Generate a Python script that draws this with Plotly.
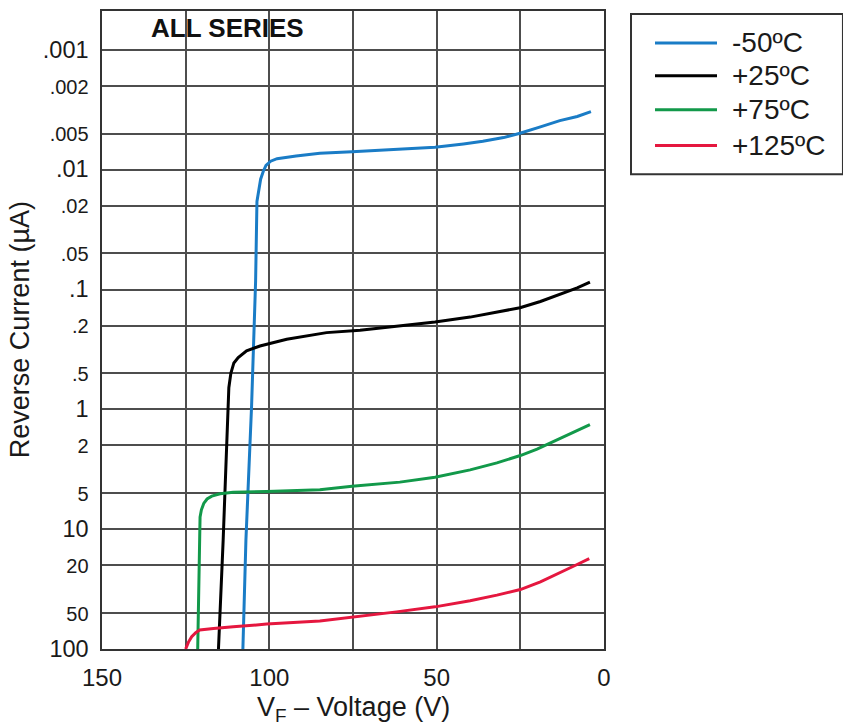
import math
import plotly.graph_objects as go

# Reverse current vs. reverse voltage at four junction temperatures
series_names = ["-50ºC", "+25ºC", "+75ºC", "+125ºC"]
series_colors = ["#1a7cc6", "#000000", "#12994a", "#e5173f"]

v_m50 = [107.9, 107.0, 105.3, 104.1, 103.7, 102.6, 101.8, 101.0, 99.6, 97.7, 92.0, 84.9, 75.3, 62.0,
         50.5, 42.0, 36.2, 30.0, 25.1, 19.0, 13.2, 8.0, 3.9]
i_m50 = [100, 12.4, 0.93, 0.085, 0.0184, 0.0120, 0.0103, 0.0092, 0.0085, 0.0081, 0.0077, 0.0073, 0.0071,
         0.0068, 0.0065, 0.0061, 0.0058, 0.0054, 0.00497, 0.0044, 0.0039, 0.0036, 0.00328]

v_p25 = [115.2, 113.8, 112.1, 111.5, 110.6, 109.3, 106.8, 102.8, 94.8, 82.9, 72.9, 61.0, 50.5,
         40.0, 32.0, 25.1, 19.0, 13.0, 8.0, 4.2]
i_p25 = [100, 12.4, 0.66, 0.50, 0.41, 0.37, 0.325, 0.296, 0.26, 0.229, 0.219, 0.201, 0.187,
         0.170, 0.155, 0.142, 0.126, 0.110, 0.097, 0.0867]

v_p75 = [121.4, 120.9, 120.7, 120.3, 119.6, 118.6, 117.2, 114.7, 110.8, 100.8, 84.9, 75.3, 61.0,
         50.5, 40.0, 32.0, 25.0, 20.0, 15.3, 10.0, 4.2]
i_p75 = [100, 12.0, 7.93, 6.9, 6.1, 5.6, 5.3, 5.07, 4.91, 4.85, 4.69, 4.38, 4.05,
         3.69, 3.2, 2.8, 2.43, 2.15, 1.86, 1.6, 1.34]

v_p125 = [125.0, 124.2, 123.2, 122.0, 120.8, 119.0, 116.7, 110.8, 100.8, 84.9, 75.3, 62.0,
          50.5, 40.0, 32.0, 25.0, 19.0, 13.2, 8.5, 4.4]
i_p125 = [100, 88, 79, 73, 69.5, 68.2, 67.3, 65.3, 62, 58.5, 54.5, 49.0,
          44.5, 39.5, 35.5, 31.9, 27.5, 23.2, 20.0, 17.6]

volt_ticks = [150, 100, 50, 0]
volt_grid_minor = [125, 75, 25]
current_ticks = [0.001, 0.002, 0.005, 0.01, 0.02, 0.05, 0.1, 0.2, 0.5, 1, 2, 5, 10, 20, 50, 100]
current_labels = [".001", ".002", ".005", ".01", ".02", ".05", ".1", ".2", ".5",
                  "1", "2", "5", "10", "20", "50", "100"]

FONT = "Liberation Sans, Arial, sans-serif"
TXT = "#1a1a1a"
GRID = "#4d4d4d"


def tick_text(label, value):
    # decade labels are set larger than the 2 and 5 labels
    decade = abs(math.log10(value) - round(math.log10(value))) < 1e-9
    size = 23.5 if decade else 20
    return f"<span style='font-size:{size}px'>{label}</span>"


fig = go.Figure()
for name, color, xs, ys in zip(series_names, series_colors,
                                [v_m50, v_p25, v_p75, v_p125],
                                [i_m50, i_p25, i_p75, i_p125]):
    fig.add_trace(go.Scatter(
        x=xs, y=ys, mode="lines", name=name,
        line=dict(color=color, width=3, shape="linear"),
        showlegend=False,
    ))

fig.update_xaxes(
    range=[150, 0],
    tickvals=volt_ticks, ticktext=[str(v) for v in volt_ticks],
    tickfont=dict(family=FONT, size=24, color=TXT),
    showgrid=True, gridcolor=GRID, gridwidth=1.5,
    minor=dict(tickvals=volt_grid_minor, showgrid=True, gridcolor=GRID, gridwidth=1.5, ticks=""),
    showline=True, linecolor="#333333", linewidth=2, mirror=True,
    ticks="", ticklabelstandoff=6, zeroline=False,
)
fig.update_yaxes(
    type="log", range=[2, -3.324],
    tickvals=current_ticks,
    ticktext=[tick_text(l, v) for l, v in zip(current_labels, current_ticks)],
    tickfont=dict(family=FONT, size=22, color=TXT),
    showgrid=True, gridcolor=GRID, gridwidth=1.5,
    showline=True, linecolor="#333333", linewidth=2, mirror=True,
    ticks="", ticklabelstandoff=7, zeroline=False,
)

annotations = [
    dict(text="<b>ALL SERIES</b>", x=0.2495, y=0.9726, xref="paper", yref="paper",
         showarrow=False, font=dict(family=FONT, size=26, color="#111111"),
         xanchor="center", yanchor="middle"),
    dict(text="V<sub>F</sub> – Voltage (V)", x=0.5, y=-0.094, xref="paper", yref="paper",
         showarrow=False, font=dict(family=FONT, size=27, color=TXT),
         xanchor="center", yanchor="middle"),
    dict(text="Reverse Current (µA)", x=-0.163, y=0.5, xref="paper", yref="paper",
         showarrow=False, textangle=-90, font=dict(family=FONT, size=27, color=TXT),
         xanchor="center", yanchor="middle"),
]

# Boxed key to the right of the plot
shapes = [dict(type="rect", xref="paper", yref="paper",
               x0=1.0538, x1=1.476, y0=0.744, y1=0.9953,
               line=dict(color="#333333", width=2), fillcolor="white")]
key_y = [0.950, 0.8984, 0.8453, 0.789]
for name, color, ky in zip(series_names, series_colors, key_y):
    shapes.append(dict(type="line", xref="paper", yref="paper",
                       x0=1.1016, x1=1.2251, y0=ky, y1=ky,
                       line=dict(color=color, width=3)))
    annotations.append(dict(text=name, x=1.251, y=ky, xref="paper", yref="paper",
                            showarrow=False, xanchor="left", yanchor="middle",
                            font=dict(family=FONT, size=28, color=TXT)))

fig.update_layout(
    width=843, height=728,
    margin=dict(l=102, r=239, t=9, b=79),
    paper_bgcolor="white", plot_bgcolor="white",
    annotations=annotations, shapes=shapes,
    showlegend=False,
)

fig.write_html("out.html")
